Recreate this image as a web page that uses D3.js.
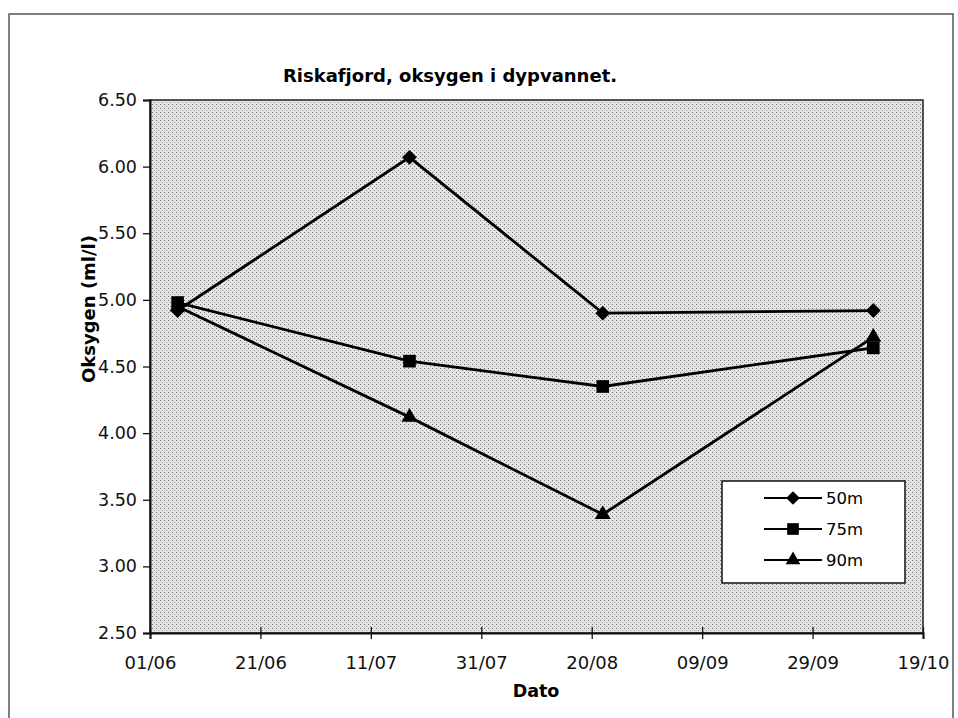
<!DOCTYPE html>
<html>
<head>
<meta charset="utf-8">
<script src="https://cdn.jsdelivr.net/npm/d3@7"></script>
<style>
  body { margin: 0; background: #fff; }
  svg { display: block; font-family: "DejaVu Sans", sans-serif; }
</style>
</head>
<body>
<svg width="958" height="718"></svg>
<script>
// data
var dates = ["1996-06-06", "1996-07-18", "1996-08-22", "1996-10-10"];
var o50 = [4.92, 6.07, 4.90, 4.92];
var o75 = [4.98, 4.54, 4.35, 4.64];
var o90 = [4.95, 4.12, 3.39, 4.72];
var seriesNames = ["50m", "75m", "90m"];
var xTickLabels = ["01/06", "21/06", "11/07", "31/07", "20/08", "09/09", "29/09", "19/10"];
var yTicks = [2.5, 3.0, 3.5, 4.0, 4.5, 5.0, 5.5, 6.0, 6.5];

var svg = d3.select("svg"),
  plotL = 150, plotR = 923, plotT = 100, plotB = 633;

var parse = d3.timeParse("%Y-%m-%d");
var tickDates = xTickLabels.map(function (s) {
  var p = s.split("/");
  return new Date(1996, +p[1] - 1, +p[0]);
});

var x = d3.scaleTime()
  .domain([tickDates[0], tickDates[tickDates.length - 1]])
  .range([plotL, plotR]);
var y = d3.scaleLinear().domain([2.5, 6.5]).range([plotB, plotT]);

// halftone look of the plot area
var defs = svg.append("defs");
var pat = defs.append("pattern")
  .attr("id", "dots")
  .attr("patternUnits", "userSpaceOnUse")
  .attr("width", 4).attr("height", 4);
pat.append("rect").attr("width", 4).attr("height", 4).attr("fill", "#e4e4e4");
pat.append("rect").attr("x", 0).attr("y", 0).attr("width", 1).attr("height", 1).attr("fill", "#707070");
pat.append("rect").attr("x", 2).attr("y", 2).attr("width", 1).attr("height", 1).attr("fill", "#959595");

// outer frame
svg.append("rect")
  .attr("x", 9).attr("y", 14).attr("width", 944).attr("height", 720)
  .attr("fill", "none").attr("stroke", "#555").attr("stroke-width", 1.5);

svg.append("rect")
  .attr("x", plotL).attr("y", plotT)
  .attr("width", plotR - plotL).attr("height", plotB - plotT)
  .attr("fill", "url(#dots)")
  .attr("stroke", "#222").attr("stroke-width", 1.5);

// title
svg.append("text")
  .attr("x", 450).attr("y", 82)
  .attr("text-anchor", "middle")
  .attr("font-weight", "bold")
  .attr("font-size", 18)
  .text("Riskafjord, oksygen i dypvannet.");

// axes
var yAxis = svg.append("g")
  .attr("transform", "translate(" + plotL + ",0)")
  .call(d3.axisLeft(y).tickValues(yTicks).tickSize(7).tickPadding(6).tickFormat(d3.format(".2f")));
yAxis.attr("font-family", null).attr("font-size", null);
yAxis.select(".domain").attr("stroke", "#111").attr("stroke-width", 2);
yAxis.selectAll("text").attr("font-size", 17.5).attr("fill", "#111");
yAxis.selectAll(".tick line").attr("stroke", "#111").attr("stroke-width", 1.3);

var xAxis = svg.append("g")
  .attr("transform", "translate(0," + plotB + ")")
  .call(d3.axisBottom(x).tickValues(tickDates).tickSize(6).tickPadding(17)
    .tickFormat(function (d, i) { return xTickLabels[i]; }));
xAxis.attr("font-family", null).attr("font-size", null);
xAxis.select(".domain").attr("stroke", "#111").attr("stroke-width", 2);
xAxis.selectAll("text").attr("font-size", 18).attr("fill", "#111");
xAxis.selectAll(".tick line").attr("y1", -6).attr("y2", 6).attr("stroke", "#111").attr("stroke-width", 1.3);

svg.append("text")
  .attr("x", 536).attr("y", 697)
  .attr("text-anchor", "middle")
  .attr("font-weight", "bold").attr("font-size", 17.5)
  .text("Dato");

svg.append("text")
  .attr("transform", "translate(95,309) rotate(-90)")
  .attr("text-anchor", "middle")
  .attr("font-weight", "bold").attr("font-size", 18)
  .text("Oksygen (ml/l)");

// series
var symbols = [d3.symbolSquare, d3.symbolSquare, d3.symbolTriangle];
var rotations = [45, 0, 0];
var sizes = [110, 160, 110];
var allSeries = [o50, o75, o90];

var line = d3.line()
  .x(function (d) { return x(d.date); })
  .y(function (d) { return y(d.v); });

allSeries.forEach(function (vals, k) {
  var pts = vals.map(function (v, i) { return { date: parse(dates[i]), v: v }; });
  svg.append("path")
    .datum(pts)
    .attr("fill", "none")
    .attr("stroke", "#000")
    .attr("stroke-width", 2.8)
    .attr("d", line);
  svg.selectAll(".m" + k)
    .data(pts)
    .enter()
    .append("path")
    .attr("class", "m" + k)
    .attr("transform", function (d) {
      return "translate(" + x(d.date) + "," + y(d.v) + ") rotate(" + rotations[k] + ")";
    })
    .attr("d", d3.symbol().type(symbols[k]).size(sizes[k]))
    .attr("fill", "#000");
});

// legend
var lg = svg.append("g").attr("transform", "translate(722,481)");
lg.append("rect")
  .attr("width", 183).attr("height", 102)
  .attr("fill", "#fff").attr("stroke", "#111").attr("stroke-width", 1.5);
seriesNames.forEach(function (name, k) {
  var yy = 17 + k * 31;
  lg.append("line")
    .attr("x1", 42).attr("x2", 100).attr("y1", yy).attr("y2", yy)
    .attr("stroke", "#000").attr("stroke-width", 2);
  lg.append("path")
    .attr("transform", "translate(71," + yy + ") rotate(" + rotations[k] + ")")
    .attr("d", d3.symbol().type(symbols[k]).size(sizes[k] * 0.85))
    .attr("fill", "#000");
  lg.append("text")
    .attr("x", 104).attr("y", yy + 6)
    .attr("font-size", 16.5)
    .text(name);
});
</script>
</body>
</html>
